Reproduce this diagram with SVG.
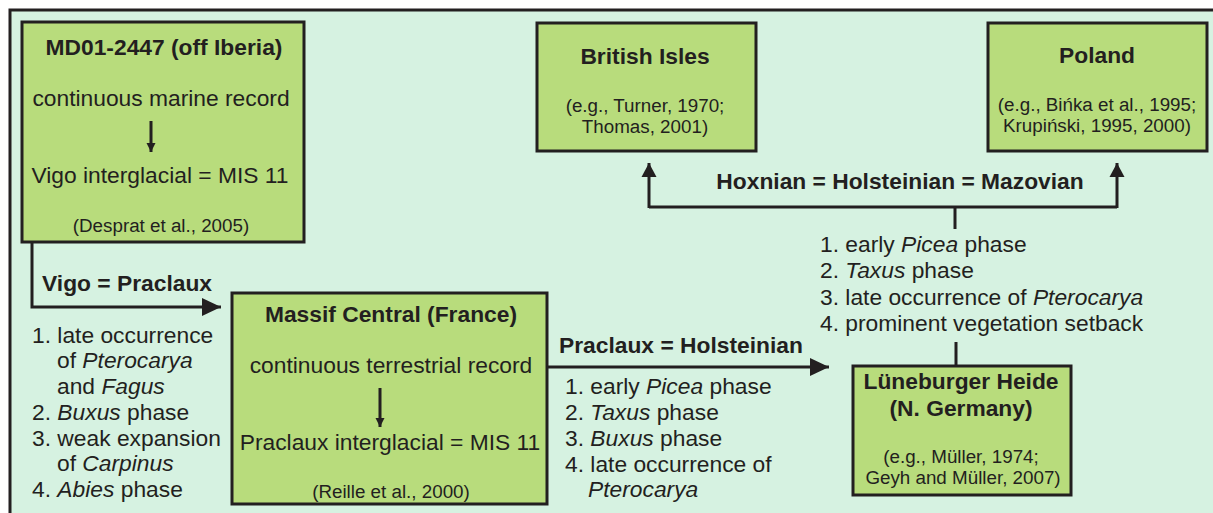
<svg xmlns="http://www.w3.org/2000/svg" width="1213" height="513" viewBox="0 0 1213 513">
<style>
text{font-family:"Liberation Sans",Arial,sans-serif;fill:#231f20;}
.t{font-size:22.8px;}
.b{font-size:22.8px;font-weight:bold;}
.r{font-size:18.8px;}
.m{text-anchor:middle;}
.i{font-style:italic;}
.box{fill:#b8dc7c;stroke:#231f20;stroke-width:3;}
.ln{fill:none;stroke:#231f20;stroke-width:3;}
.sl{fill:none;stroke:#231f20;stroke-width:3;}
</style>
<defs>
<marker id="ah" markerUnits="userSpaceOnUse" markerWidth="20" markerHeight="20" viewBox="0 0 20 20" refX="19" refY="10" orient="auto"><path d="M0,1 L19,10 L0,19 Z" fill="#231f20"/></marker>
<marker id="av" markerUnits="userSpaceOnUse" markerWidth="16" markerHeight="16" viewBox="0 0 16 16" refX="14" refY="8" orient="auto"><path d="M0,0.5 L14,8 L0,15.5 Z" fill="#231f20"/></marker>
<marker id="as" markerUnits="userSpaceOnUse" markerWidth="10" markerHeight="10" viewBox="0 0 10 10" refX="9" refY="5" orient="auto"><path d="M0,0.5 L9,5 L0,9.5 Z" fill="#231f20"/></marker>
</defs>
<rect x="0" y="0" width="1213" height="513" fill="#ffffff"/>
<rect x="10" y="10" width="1210" height="510" fill="#d6f2e1"/>
<path d="M10,513 L10,10 L1213,10" class="ln"/>

<g id="connectors">
<path d="M32,242 L32,307 L221,307" class="ln" marker-end="url(#ah)"/>
<path d="M547,367 L829,367" class="ln" marker-end="url(#ah)"/>
<path d="M956,366 L956,342" class="ln"/>
<path d="M955,229 L955,207" class="ln"/>
<path d="M649,207 L1117,207" class="ln"/>
<path d="M649,208 L649,163" class="ln" marker-end="url(#av)"/>
<path d="M1117,208 L1117,163" class="ln" marker-end="url(#av)"/>
<text x="42" y="291" class="b">Vigo = Praclaux</text>
<text x="559" y="353" class="b">Praclaux = Holsteinian</text>
<text x="900" y="189" class="b m">Hoxnian = Holsteinian = Mazovian</text>
</g>

<g id="md01">
<rect x="22" y="22" width="282" height="220" class="box"/>
<text x="164" y="55" class="b m">MD01-2447 (off Iberia)</text>
<text x="161" y="106" class="t m">continuous marine record</text>
<path d="M151,121 L151,152" class="sl" marker-end="url(#as)"/>
<text x="160" y="183" class="t m">Vigo interglacial = MIS 11</text>
<text x="161" y="232" class="r m">(Desprat et al., 2005)</text>
</g>

<g id="vigo-list">
<text x="32" y="343" class="t">1. late occurrence</text>
<text x="57" y="368" class="t">of <tspan class="i">Pterocarya</tspan></text>
<text x="57" y="394" class="t">and <tspan class="i">Fagus</tspan></text>
<text x="32" y="420" class="t">2. <tspan class="i">Buxus</tspan> phase</text>
<text x="32" y="446" class="t">3. weak expansion</text>
<text x="57" y="471" class="t">of <tspan class="i">Carpinus</tspan></text>
<text x="32" y="497" class="t">4. <tspan class="i">Abies</tspan> phase</text>
</g>

<g id="massif">
<rect x="232" y="293" width="315" height="211" class="box"/>
<text x="391" y="322" class="b m">Massif Central (France)</text>
<text x="391" y="373" class="t m">continuous terrestrial record</text>
<path d="M380,388 L380,427" class="sl" marker-end="url(#as)"/>
<text x="390" y="450" class="t m">Praclaux interglacial = MIS 11</text>
<text x="391" y="498" class="r m">(Reille et al., 2000)</text>
</g>

<g id="praclaux-list">
<text x="565" y="394" class="t">1. early <tspan class="i">Picea</tspan> phase</text>
<text x="565" y="420" class="t">2. <tspan class="i">Taxus</tspan> phase</text>
<text x="565" y="446" class="t">3. <tspan class="i">Buxus</tspan> phase</text>
<text x="565" y="472" class="t">4. late occurrence of</text>
<text x="588" y="497" class="t i">Pterocarya</text>
</g>

<g id="british">
<rect x="537" y="23" width="219" height="128" class="box"/>
<text x="645" y="64" class="b m">British Isles</text>
<text x="645" y="112" class="r m">(e.g., Turner, 1970;</text>
<text x="645" y="133" class="r m">Thomas, 2001)</text>
</g>

<g id="poland">
<rect x="988" y="23" width="219" height="128" class="box"/>
<text x="1097" y="63" class="b m">Poland</text>
<text x="1097" y="111" class="r m">(e.g., Bińka et al., 1995;</text>
<text x="1097" y="132" class="r m">Krupiński, 1995, 2000)</text>
</g>

<g id="holstein-list">
<text x="820" y="252" class="t">1. early <tspan class="i">Picea</tspan> phase</text>
<text x="820" y="278" class="t">2. <tspan class="i">Taxus</tspan> phase</text>
<text x="820" y="305" class="t">3. late occurrence of <tspan class="i">Pterocarya</tspan></text>
<text x="820" y="331" class="t">4. prominent vegetation setback</text>
</g>

<g id="luneburg">
<rect x="853" y="366" width="218" height="129" class="box"/>
<text x="961" y="389" class="b m">Lüneburger Heide</text>
<text x="961" y="416" class="b m">(N. Germany)</text>
<text x="961" y="463" class="r m">(e.g., Müller, 1974;</text>
<text x="963" y="484" class="r m">Geyh and Müller, 2007)</text>
</g>
</svg>
